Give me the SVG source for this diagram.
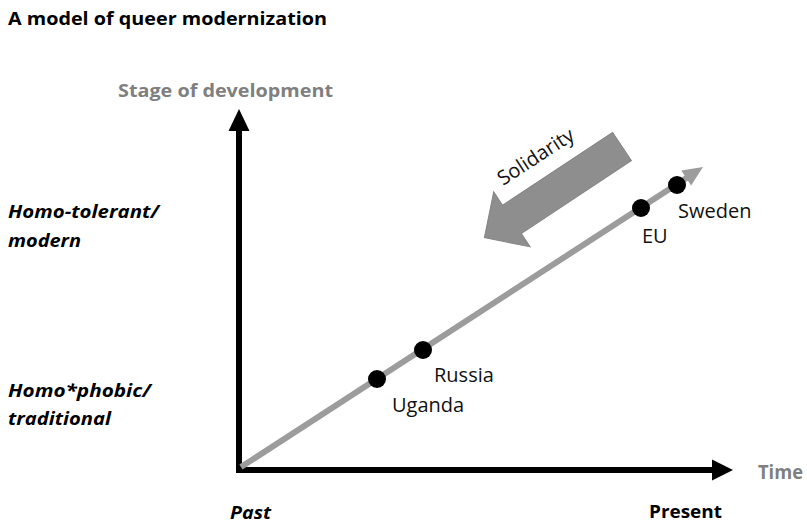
<svg xmlns="http://www.w3.org/2000/svg" width="807" height="524" viewBox="0 0 807 524">
<defs>
<style>
text{font-family:"Open Sans","Liberation Sans",sans-serif;}
.hd{font-weight:bold;fill:#000;}
.gr{font-weight:bold;fill:#7f7f7f;}
.bi{font-weight:bold;font-style:italic;fill:#000;}
.lb{font-size:20px;fill:#111;}
.dot{fill:#000;}
</style>
</defs>
<rect width="807" height="524" fill="#fff"/>
<g id="title"><text class="hd" x="8" y="25" font-size="17.5" textLength="319" lengthAdjust="spacingAndGlyphs">A model of queer modernization</text></g>
<g id="axis-labels">
<text class="gr" x="118" y="97" font-size="18" textLength="215" lengthAdjust="spacingAndGlyphs">Stage of development</text>
<text class="gr" x="758" y="479" font-size="19" textLength="45" lengthAdjust="spacingAndGlyphs">Time</text>
<text class="bi" x="8" y="218" font-size="18" textLength="151" lengthAdjust="spacingAndGlyphs">Homo-tolerant/</text>
<text class="bi" x="8" y="247" font-size="18" textLength="73" lengthAdjust="spacingAndGlyphs">modern</text>
<text class="bi" x="8" y="397" font-size="18" textLength="143" lengthAdjust="spacingAndGlyphs">Homo*phobic/</text>
<text class="bi" x="8" y="425" font-size="18" textLength="103" lengthAdjust="spacingAndGlyphs">traditional</text>
<text class="bi" x="230" y="519" font-size="18" textLength="41" lengthAdjust="spacingAndGlyphs">Past</text>
<text class="hd" x="649" y="518" font-size="18" textLength="73" lengthAdjust="spacingAndGlyphs">Present</text>
</g>
<g id="connectors">
<line x1="239" y1="473" x2="239" y2="129" stroke="#000" stroke-width="6"/>
<polygon points="239,109 228.5,131 249.5,131" fill="#000"/>
<line x1="236" y1="470" x2="714" y2="470" stroke="#000" stroke-width="6"/>
<polygon points="733,470 712,459.5 712,480.5" fill="#000"/>
<line x1="241" y1="467" x2="688" y2="177" stroke="#9c9c9c" stroke-width="6"/>
<polygon points="703,167 691.1,185.4 681.3,170.4" fill="#9c9c9c"/>
</g>
<g id="solidarity">
<polygon points="0,-17 132,-17 132,-33 165,0 132,33 132,17 0,17" transform="translate(622,146.5) rotate(146.5)" fill="#8e8e8e" stroke="#858585" stroke-width="1"/>
<text class="lb" x="0" y="0" transform="translate(503,186) rotate(-33)">Solidarity</text>
</g>
<g id="uganda"><circle class="dot" cx="377" cy="379" r="9"/><text class="lb" x="392" y="412">Uganda</text></g>
<g id="russia"><circle class="dot" cx="423" cy="350" r="9"/><text class="lb" x="434" y="382">Russia</text></g>
<g id="eu"><circle class="dot" cx="641" cy="208" r="9"/><text class="lb" x="642" y="243">EU</text></g>
<g id="sweden"><circle class="dot" cx="677" cy="185" r="9"/><text class="lb" x="678" y="218">Sweden</text></g>
</svg>
